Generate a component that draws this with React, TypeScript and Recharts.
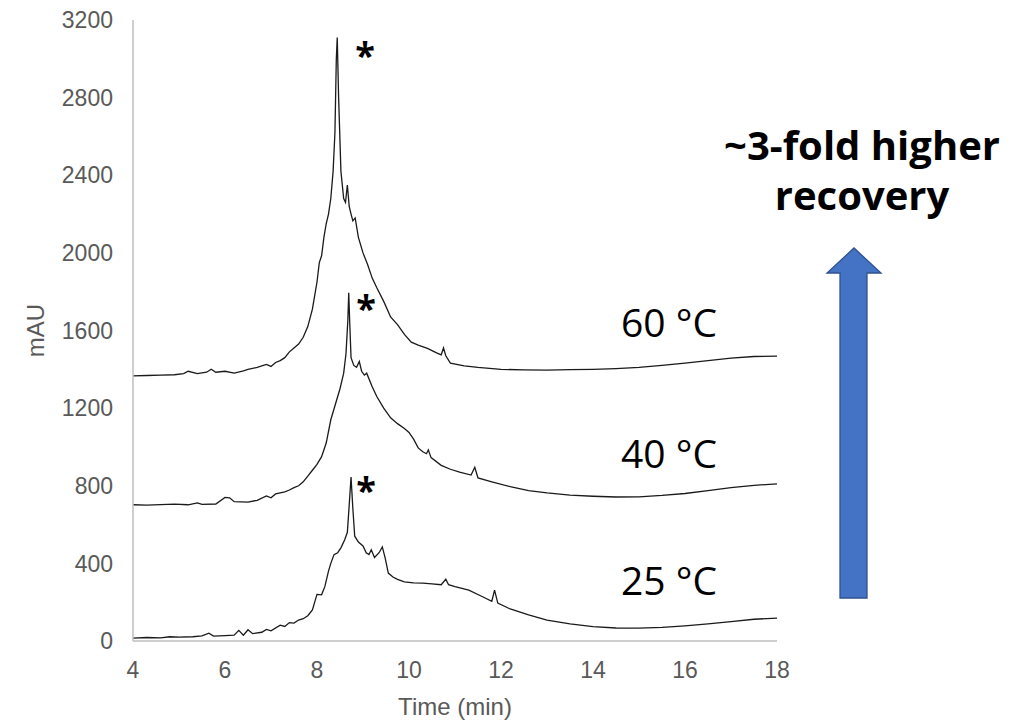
import { LineChart, Line, XAxis, YAxis } from 'recharts'

// retention time (min) and absorbance (mAU)
const t60 = [4.0, 4.3, 4.6, 4.9, 5.1, 5.2, 5.4, 5.6, 5.7, 5.8, 6.0, 6.2, 6.4, 6.5, 6.7, 6.9, 7.0, 7.1, 7.2, 7.3, 7.4, 7.5, 7.6, 7.7, 7.8, 7.9, 8.0, 8.05, 8.1, 8.15, 8.2, 8.25, 8.3, 8.35, 8.39, 8.42, 8.44, 8.47, 8.52, 8.58, 8.62, 8.66, 8.7, 8.74, 8.78, 8.83, 8.9, 9.0, 9.1, 9.2, 9.3, 9.45, 9.6, 9.75, 9.9, 10.05, 10.2, 10.4, 10.6, 10.7, 10.75, 10.8, 10.9, 11.2, 11.5, 12.0, 12.5, 13.0, 13.5, 14.0, 14.5, 15.0, 15.5, 16.0, 16.5, 17.0, 17.5, 18.0]
const v60 = [1366, 1368, 1370, 1372, 1378, 1390, 1378, 1385, 1400, 1385, 1390, 1380, 1392, 1400, 1410, 1425, 1415, 1435, 1445, 1460, 1490, 1510, 1530, 1565, 1620, 1710, 1850, 1950, 1985, 2080, 2150, 2200, 2280, 2420, 2620, 3000, 3110, 2800, 2420, 2280, 2260, 2350, 2240, 2200, 2165, 2180, 2080, 2000, 1940, 1870, 1820, 1750, 1670, 1630, 1580, 1540, 1525, 1508, 1485, 1475, 1510, 1470, 1432, 1418, 1410, 1400, 1397, 1396, 1398, 1400, 1404, 1410, 1420, 1432, 1445, 1458, 1466, 1468]

const t40 = [4.0, 4.3, 4.6, 4.9, 5.2, 5.4, 5.5, 5.8, 6.0, 6.1, 6.2, 6.5, 6.7, 6.9, 7.0, 7.1, 7.3, 7.4, 7.5, 7.6, 7.7, 7.8, 7.9, 8.0, 8.1, 8.2, 8.3, 8.4, 8.5, 8.58, 8.63, 8.67, 8.69, 8.71, 8.74, 8.8, 8.86, 8.92, 8.97, 9.03, 9.08, 9.2, 9.3, 9.45, 9.6, 9.75, 9.9, 10.0, 10.1, 10.2, 10.3, 10.38, 10.42, 10.48, 10.7, 10.9, 11.1, 11.35, 11.43, 11.5, 11.8, 12.2, 12.6, 13.0, 13.5, 14.0, 14.5, 15.0, 15.5, 16.0, 16.5, 17.0, 17.5, 18.0]
const v40 = [702, 700, 703, 705, 702, 712, 704, 706, 740, 738, 718, 716, 725, 748, 738, 758, 768, 778, 790, 800, 820, 850, 880, 910, 950, 1020, 1140, 1220, 1300, 1380, 1480, 1650, 1795, 1650, 1460, 1420, 1410, 1440, 1390, 1370, 1380, 1310, 1260, 1200, 1150, 1120, 1095, 1075, 1040, 995, 975, 965, 985, 945, 905, 885, 870, 855, 895, 840, 820, 795, 775, 763, 752, 746, 742, 743, 750, 760, 775, 790, 802, 810]

const t25 = [4.0, 4.3, 4.6, 4.8, 5.0, 5.3, 5.5, 5.65, 5.75, 6.0, 6.2, 6.3, 6.4, 6.5, 6.6, 6.8, 6.9, 7.0, 7.2, 7.3, 7.4, 7.5, 7.6, 7.7, 7.8, 7.9, 7.95, 8.0, 8.1, 8.17, 8.25, 8.3, 8.37, 8.45, 8.52, 8.6, 8.66, 8.7, 8.74, 8.78, 8.82, 8.9, 9.0, 9.07, 9.13, 9.18, 9.25, 9.35, 9.42, 9.48, 9.55, 9.65, 9.75, 9.9, 10.1, 10.3, 10.5, 10.7, 10.8, 10.86, 11.0, 11.3, 11.6, 11.8, 11.86, 11.93, 12.2, 12.6, 13.0, 13.5, 14.0, 14.5, 15.0, 15.5, 16.0, 16.5, 17.0, 17.5, 18.0]
const v25 = [15, 18, 16, 22, 20, 22, 26, 40, 25, 28, 30, 55, 30, 58, 38, 45, 60, 52, 82, 75, 95, 92, 108, 115, 130, 160, 200, 240, 238, 280, 360, 400, 445, 455, 480, 520, 560, 700, 845, 680, 540, 510, 490, 455, 445, 470, 430, 455, 485, 430, 350, 330, 318, 305, 300, 298, 294, 290, 318, 290, 280, 262, 228, 205, 262, 195, 165, 135, 108, 88, 74, 67, 66, 70, 78, 88, 100, 112, 118]

const xTicks = [4, 6, 8, 10, 12, 14, 16, 18]
const yTicks = [0, 400, 800, 1200, 1600, 2000, 2400, 2800, 3200]

const toRows = (ts: number[], vs: number[]) => ts.map((t, i) => ({ t, v: vs[i] }))

const series = [
  { name: '60 °C', data: toRows(t60, v60) },
  { name: '40 °C', data: toRows(t40, v40) },
  { name: '25 °C', data: toRows(t25, v25) },
]

const tickStyle = { fill: '#595959', fontSize: 23, fontFamily: '"Liberation Sans", Arial, sans-serif' }

export default function App() {
  return (
    <div style={{ position: 'absolute', left: 0, top: 0, width: 1030, height: 721, background: '#fff' }}>
      <LineChart width={1030} height={721} margin={{ top: 20, right: 253, left: 10, bottom: 0 }}>
        <XAxis
          type="number"
          dataKey="t"
          domain={[4, 18]}
          ticks={xTicks}
          allowDuplicatedCategory={false}
          stroke="#bfbfbf"
          strokeWidth={1.5}
          tickLine={false}
          tickMargin={15}
          tick={tickStyle}
          height={80}
          label={{ value: 'Time (min)', position: 'insideBottom', offset: 6, fill: '#595959', fontSize: 24, fontFamily: '"Liberation Sans", Arial, sans-serif' }}
        />
        <YAxis
          type="number"
          domain={[0, 3200]}
          ticks={yTicks}
          stroke="#bfbfbf"
          strokeWidth={1.5}
          tickLine={false}
          tickMargin={14}
          tick={tickStyle}
          width={123}
          label={{ value: 'mAU', angle: -90, position: 'insideLeft', offset: 25, fill: '#595959', fontSize: 24, fontFamily: '"Liberation Sans", Arial, sans-serif', style: { textAnchor: 'middle' } }}
        />
        {series.map((s) => (
          <Line
            key={s.name}
            data={s.data}
            dataKey="v"
            type="linear"
            stroke="#1a1a1a"
            strokeWidth={1.3}
            dot={false}
            isAnimationActive={false}
          />
        ))}
      </LineChart>
      <svg width={1030} height={721} style={{ position: 'absolute', left: 0, top: 0, pointerEvents: 'none' }}>
        <g fontFamily='"Open Sans", sans-serif' fill="#000">
          <text x={365} y={68} fontSize={36} fontWeight={700} textAnchor="middle">*</text>
          <text x={366} y={321} fontSize={36} fontWeight={700} textAnchor="middle">*</text>
          <text x={366} y={503} fontSize={36} fontWeight={700} textAnchor="middle">*</text>
          <text x={621} y={337} fontSize={39}>60 °C</text>
          <text x={621} y={468} fontSize={39}>40 °C</text>
          <text x={621} y={595} fontSize={39}>25 °C</text>
          <text x={862} y={160} fontSize={40} fontWeight={700} textAnchor="middle">~3-fold higher</text>
          <text x={862} y={210} fontSize={40} fontWeight={700} textAnchor="middle">recovery</text>
        </g>
        <polygon
          points="840,598 867,598 867,273 881,273 854,248 827,273 840,273"
          fill="#4472c4"
          stroke="#2f528f"
          strokeWidth={1.3}
        />
      </svg>
    </div>
  )
}
